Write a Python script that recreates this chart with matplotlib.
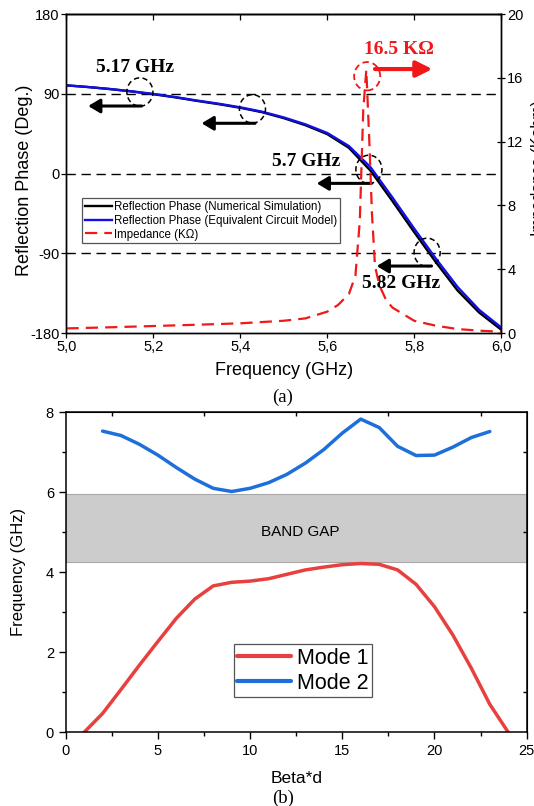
import matplotlib
matplotlib.use("Agg")
import matplotlib.pyplot as plt
from matplotlib.patches import Ellipse
from matplotlib.ticker import FuncFormatter, FixedLocator

plt.rcParams['font.family'] = ['Liberation Sans', 'DejaVu Sans']
plt.rcParams['axes.unicode_minus'] = False

# ---------------- (a) reflection phase and impedance ----------------
freq_ghz = [5.00, 5.05, 5.10, 5.15, 5.20, 5.25, 5.30, 5.35, 5.40, 5.45, 5.50,
            5.55, 5.60, 5.65, 5.70, 5.75, 5.80, 5.85, 5.90, 5.95, 6.00]
phase_sim = [99.5, 97.6, 95.3, 92.6, 89.5, 86.0, 82.0, 78.3, 74.2, 69.2, 62.5,
             54.5, 44.5, 29.0, 3.0, -31.0, -66.0, -100.0, -132.0, -157.0, -176.0]
phase_ecm = [99.5, 97.6, 95.4, 92.8, 89.8, 86.3, 82.4, 78.8, 74.7, 69.8, 63.3,
             55.5, 45.8, 31.0, 7.0, -27.0, -62.0, -96.0, -128.0, -154.0, -173.5]

imp_freq_ghz = [5.00, 5.10, 5.20, 5.30, 5.40, 5.50, 5.55, 5.60, 5.625, 5.65,
                5.665, 5.675, 5.683, 5.690, 5.697, 5.703, 5.710, 5.720, 5.735,
                5.75, 5.80, 5.85, 5.90, 5.95, 6.00]
imp_kohm = [0.29, 0.36, 0.44, 0.52, 0.61, 0.77, 0.92, 1.34, 1.76, 2.45,
            3.6, 7.0, 14.0, 16.5, 12.0, 7.5, 4.2, 3.0, 2.1,
            1.6, 0.77, 0.46, 0.25, 0.15, 0.08]

phase_ticks = [-180, -90, 0, 90, 180]
imp_ticks = [0, 4, 8, 12, 16, 20]
freq_ticks = [5.0, 5.2, 5.4, 5.6, 5.8, 6.0]
ref_levels = [90, 0, -90]

# ---------------- (b) dispersion diagram ----------------
beta_d_mode1 = list(range(1, 25))
mode1_ghz = [0.0, 0.47, 1.07, 1.68, 2.27, 2.85, 3.33, 3.66, 3.75, 3.78, 3.84, 3.95,
             4.06, 4.13, 4.19, 4.22, 4.20, 4.06, 3.70, 3.14, 2.43, 1.60, 0.70, 0.0]
beta_d_mode2 = list(range(2, 24))
mode2_ghz = [7.53, 7.42, 7.20, 6.93, 6.62, 6.33, 6.10, 6.02, 6.10, 6.24, 6.45,
             6.73, 7.07, 7.48, 7.83, 7.62, 7.15, 6.92, 6.93, 7.13, 7.37, 7.52]
band_gap = (4.25, 5.96)

fig = plt.figure(figsize=(5.34, 8.06), dpi=100)

# ===== panel (a) =====
ax = fig.add_axes([0.1245, 0.5868, 0.8137, 0.3958])
ax2 = ax.twinx()

for lvl in ref_levels:
    ax.axhline(lvl, color='black', lw=1.0, dashes=(6.7, 4.1), zorder=1)

l_sim, = ax.plot(freq_ghz, phase_sim, color='black', lw=1.7, zorder=3,
                 label='Reflection Phase (Numerical Simulation)')
l_ecm, = ax.plot(freq_ghz, phase_ecm, color='#1010E6', lw=1.7, zorder=4,
                 label='Reflection Phase (Equivalent Circuit Model)')
l_imp, = ax2.plot(imp_freq_ghz, imp_kohm, color='#F01818', lw=1.6,
                  dashes=(5.5, 3.2), label='Impedance (K\u03a9)')

ax.set_xlim(5.0, 6.0)
ax.set_ylim(-180, 180)
ax2.set_ylim(0, 20)
ax.set_xticks(freq_ticks)
ax.set_yticks(phase_ticks)
ax2.set_yticks(imp_ticks)
ax.xaxis.set_major_formatter(FuncFormatter(lambda v, p: f'{v:.1f}'.replace('.', ',')))
ax.tick_params(axis='both', direction='out', length=3.5, width=0.9,
               labelsize=10.5, pad=1.5, top=False, right=False)
ax2.tick_params(axis='y', direction='inout', length=6, width=0.9,
                labelsize=10.5, pad=1.5)
top_a = ax.secondary_xaxis('top')
top_a.set_xticks(freq_ticks)
top_a.tick_params(direction='in', length=4, width=0.9, labeltop=False)
for a in (ax, ax2):
    for s in a.spines.values():
        s.set_linewidth(1.0)
top_a.spines['top'].set_linewidth(1.0)

ax.set_xlabel('Frequency (GHz)', fontsize=13, labelpad=6)
ax.set_ylabel('Reflection Phase (Deg.)', fontsize=13, labelpad=1)
ax.yaxis.set_label_coords(-0.076, 0.48)
fig.text(531 / 534, 1 - 168 / 806, 'Impedance (Kohm)', rotation=90,
         ha='left', va='center', fontsize=11.5)

# dashed markers around the crossing points
circ_kw = dict(fill=False, ec='black', lw=1.1, ls=(0, (3.5, 2.2)), zorder=5)
for cx, cy in [(5.169, 92), (5.428, 73), (5.696, 4.7), (5.830, -89)]:
    ax.add_patch(Ellipse((cx, cy), 0.06, 32, **circ_kw))
ax2.add_patch(Ellipse((5.692, 16.1), 0.06, 1.78, fill=False, ec='#F01818',
                      lw=1.3, ls=(0, (3.5, 2.2)), zorder=5))

arrow_kw = dict(arrowstyle='-|>,head_length=0.5,head_width=0.3', color='black',
                lw=2.2, shrinkA=0, shrinkB=0, mutation_scale=14)
for x0, x1, yv in [(5.173, 5.050, 76.2), (5.434, 5.311, 56.7),
                   (5.702, 5.576, -11.1), (5.840, 5.714, -104.4)]:
    ax.annotate('', xy=(x1, yv), xytext=(x0, yv), arrowprops=arrow_kw, zorder=6)
ax2.annotate('', xy=(5.842, 16.55), xytext=(5.710, 16.55),
             arrowprops=dict(arrowstyle='-|>,head_length=0.6,head_width=0.3',
                             color='#F01818', lw=3.0, shrinkA=0, shrinkB=0,
                             mutation_scale=16))

lab_kw = dict(fontfamily='Liberation Serif', fontweight='bold', fontsize=14,
              ha='center', va='center', zorder=7)
ax.text(5.158, 119.8, '5.17 GHz', **lab_kw)
ax.text(5.552, 13.4, '5.7 GHz', **lab_kw)
ax.text(5.770, -123.9, '5.82 GHz', **lab_kw)
ax.text(5.765, 140.5, '16.5 K\u03a9', color='#F01818', **lab_kw)

leg = ax2.legend(handles=[l_sim, l_ecm, l_imp], loc='upper left',
                 bbox_to_anchor=(0.035, 0.422), fontsize=8.3, frameon=True,
                 fancybox=False, edgecolor='#555555', framealpha=1,
                 handlelength=2.4, handletextpad=0.15, borderpad=0.25,
                 labelspacing=0.14, borderaxespad=0)
leg.get_frame().set_linewidth(0.9)

fig.text(282.7 / 534, 1 - 397 / 806, '(a)', fontfamily='Liberation Serif',
         fontsize=13.5, ha='center', va='center')

# ===== panel (b) =====
bx = fig.add_axes([0.1230, 0.09144, 0.8633, 0.3970])
bx.axhspan(band_gap[0], band_gap[1], facecolor='#CCCCCC', edgecolor='#A8A8A8',
           lw=0.8, zorder=0)
bx.text(12.7, 5.0, 'BAND GAP', fontsize=11, ha='center', va='center')
bx.plot(beta_d_mode1, mode1_ghz, color='#E8403E', lw=2.5, label='Mode 1',
        solid_capstyle='round')
bx.plot(beta_d_mode2, mode2_ghz, color='#1E6FD9', lw=2.5, label='Mode 2',
        solid_capstyle='round')
bx.set_xlim(0, 25)
bx.set_ylim(0, 8)
bx.set_xticks([0, 5, 10, 15, 20, 25])
bx.set_yticks([0, 2, 4, 6, 8])
bx.xaxis.set_minor_locator(FixedLocator([2.5, 7.5, 12.5, 17.5, 22.5]))
bx.yaxis.set_minor_locator(FixedLocator([1, 3, 5, 7]))
bx.tick_params(which='major', direction='out', length=5, width=1.0,
               labelsize=10.5, pad=3.5, top=False, right=False)
bx.tick_params(which='minor', direction='out', length=3, width=1.0,
               top=False, right=False)
bt = bx.secondary_xaxis('top')
bt.set_xticks([2.5, 7.5, 12.5, 17.5, 22.5])
bt.tick_params(direction='in', length=3, width=1.0, labeltop=False)
br = bx.secondary_yaxis('right')
br.set_yticks([1, 3, 5, 7])
br.tick_params(direction='in', length=3, width=1.0, labelright=False)
for s in bx.spines.values():
    s.set_linewidth(1.1)
bx.set_xlabel('Beta*d', fontsize=12.5, labelpad=9)
bx.set_ylabel('Frequency (GHz)', fontsize=12, labelpad=14)
leg_b = bx.legend(loc='upper left', bbox_to_anchor=(0.365, 0.275), fontsize=15.5,
                  frameon=True, fancybox=False, edgecolor='#555555', framealpha=1,
                  handlelength=2.5, handletextpad=0.3, borderpad=0.15,
                  labelspacing=0.2, borderaxespad=0)
leg_b.get_frame().set_linewidth(0.9)
for h in leg_b.get_lines():
    h.set_linewidth(3)

fig.text(282.7 / 534, 1 - 798 / 806, '(b)', fontfamily='Liberation Serif',
         fontsize=13.5, ha='center', va='center')

fig.savefig('out.png', dpi=100)
